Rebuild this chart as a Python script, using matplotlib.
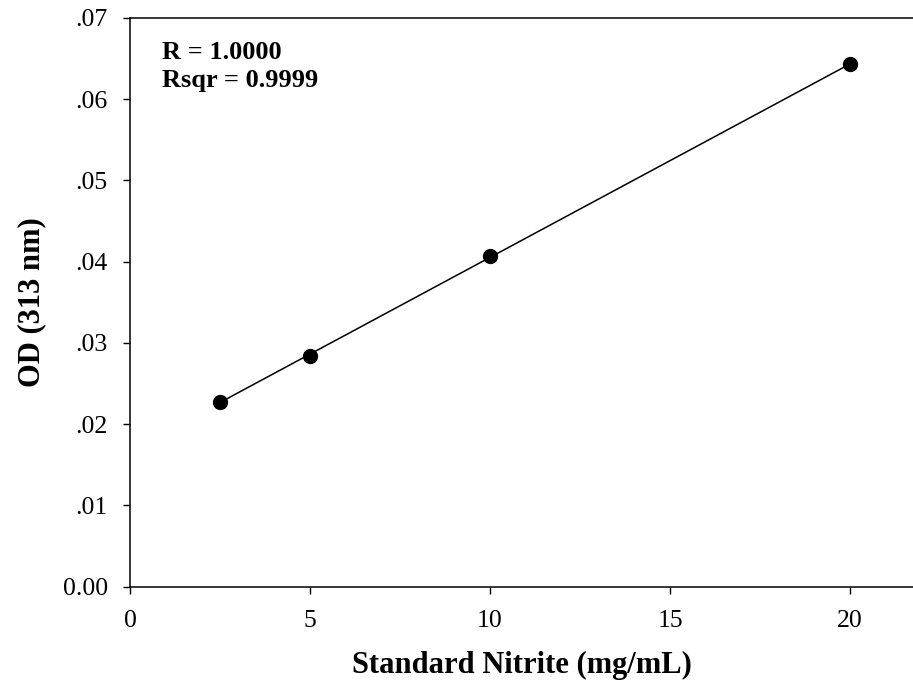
import numpy as np
from matplotlib import pyplot as plt

# standard curve data
nitrite = [2.5, 5.0, 10.0, 20.0]
od = [0.02277, 0.02840, 0.04071, 0.06430]
y_ticks = [0.0, 0.01, 0.02, 0.03, 0.04, 0.05, 0.06, 0.07]
y_tick_labels = ["0.00", ".01", ".02", ".03", ".04", ".05", ".06", ".07"]
x_ticks = [0, 5, 10, 15, 20]

plt.rcParams['font.family'] = ['Liberation Serif', 'DejaVu Serif']

fig = plt.figure(figsize=(9.13, 6.96), dpi=100)
ax = fig.add_axes([130 / 913, 1 - 586.7 / 696, 783 / 913, 568.7 / 696])

# linear regression line
slope, intercept = np.polyfit(nitrite, od, 1)
xs = np.array([min(nitrite), max(nitrite)])
ax.plot(xs, slope * xs + intercept, color='black', linewidth=1.1, zorder=2)
ax.plot(nitrite, od, 'o', color='black', markersize=10, zorder=3)

ax.set_xlim(0, 783 / 36)
ax.set_ylim(0, 0.07)
ax.set_xticks(x_ticks)
ax.set_yticks(y_ticks)
ax.set_yticklabels(y_tick_labels)
ax.tick_params(direction='out', length=5, width=1, labelsize=18.5)
ax.tick_params(axis='y', pad=11)
ax.tick_params(axis='x', pad=11.5)

ax.spines['right'].set_visible(False)
for s in ['left', 'bottom', 'top']:
    ax.spines[s].set_linewidth(1.1)

ax.set_xlabel("Standard Nitrite (mg/mL)", fontsize=22, fontweight='bold', labelpad=14)
ax.set_ylabel("OD (313 nm)", fontsize=22, fontweight='bold', labelpad=12)

ax.text(0.0405, 0.960, "R = 1.0000\nRsqr = 0.9999", transform=ax.transAxes,
        fontsize=19, fontweight='bold', va='top', ha='left', linespacing=1.3)

fig.savefig('out.png', dpi=100)
